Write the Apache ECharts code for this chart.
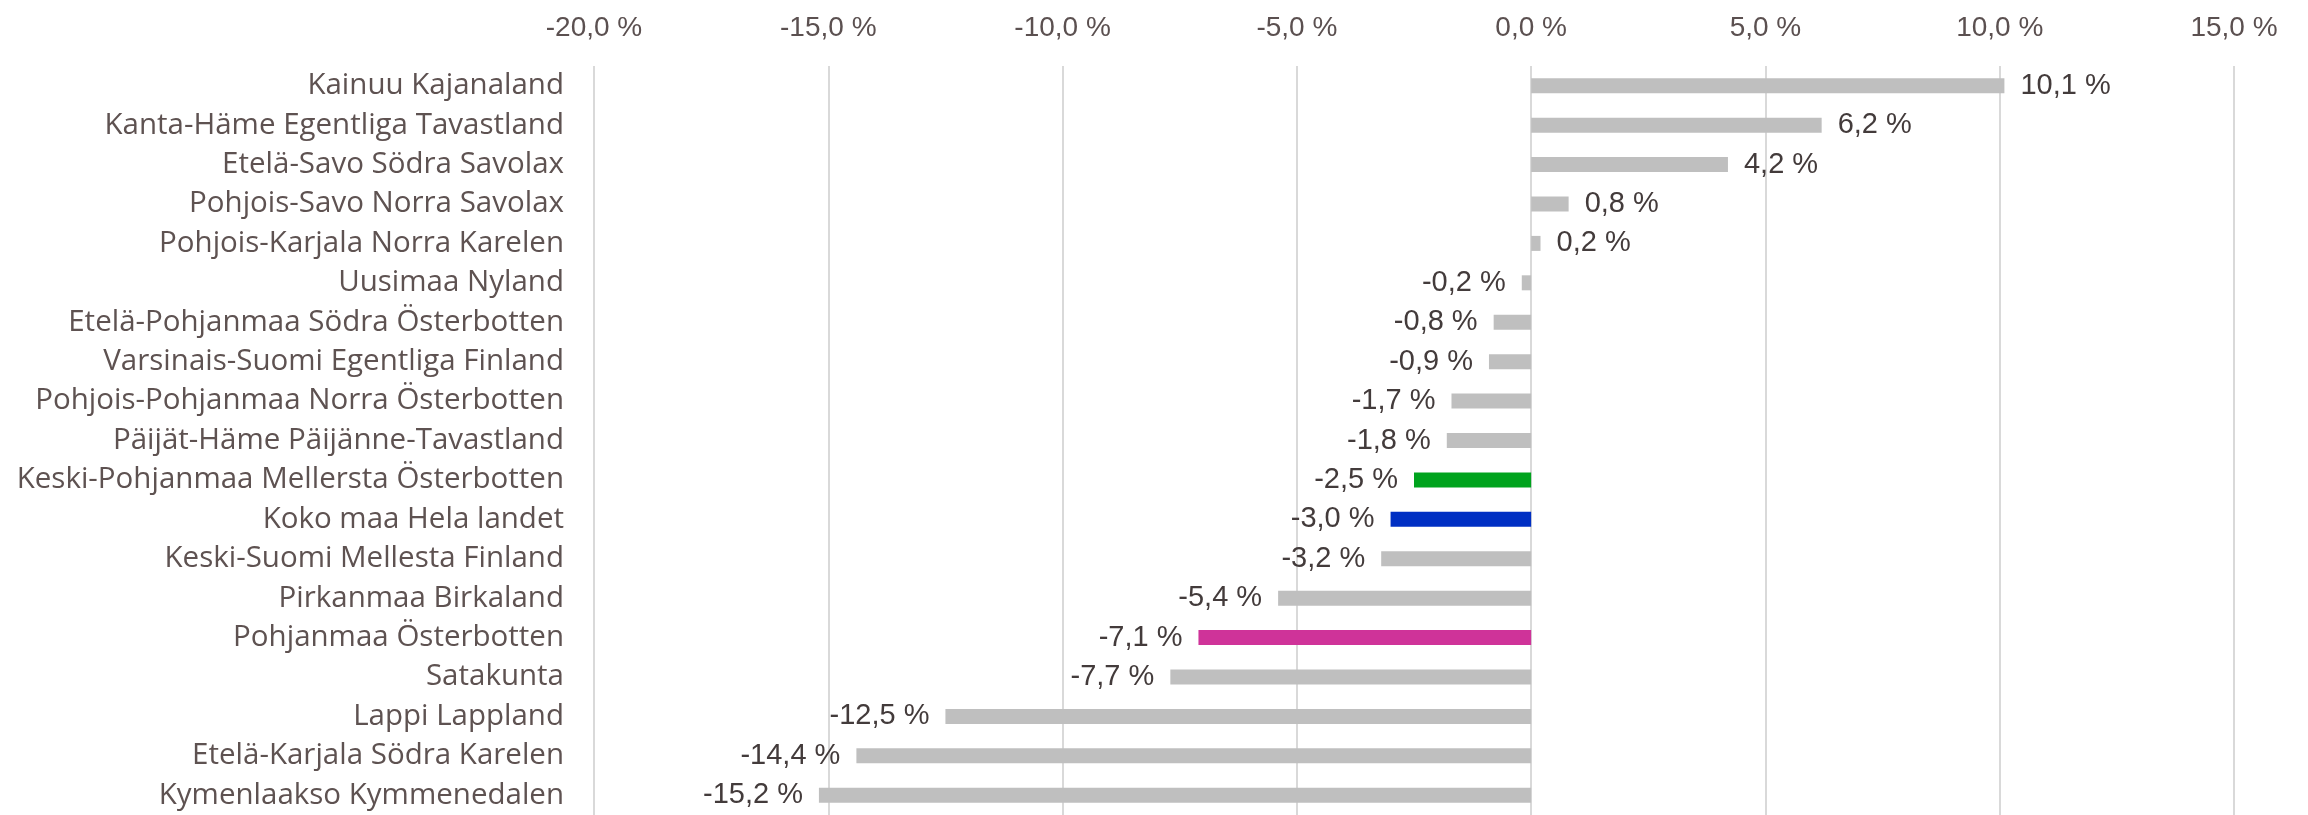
<!DOCTYPE html>
<html>
<head>
<meta charset="utf-8">
<script src="https://cdn.jsdelivr.net/npm/echarts@6/dist/echarts.min.js"></script>
<style>
  html, body { margin: 0; padding: 0; background: #ffffff; }
  #chart { width: 2308px; height: 815px; }
</style>
</head>
<body>
<div id="chart"></div>
<script>
// alueet ylhäältä alas
var regions = [
  'Kainuu Kajanaland',
  'Kanta-Häme Egentliga Tavastland',
  'Etelä-Savo Södra Savolax',
  'Pohjois-Savo Norra Savolax',
  'Pohjois-Karjala Norra Karelen',
  'Uusimaa Nyland',
  'Etelä-Pohjanmaa Södra Österbotten',
  'Varsinais-Suomi Egentliga Finland',
  'Pohjois-Pohjanmaa Norra Österbotten',
  'Päijät-Häme Päijänne-Tavastland',
  'Keski-Pohjanmaa Mellersta Österbotten',
  'Koko maa Hela landet',
  'Keski-Suomi Mellesta Finland',
  'Pirkanmaa Birkaland',
  'Pohjanmaa Österbotten',
  'Satakunta',
  'Lappi Lappland',
  'Etelä-Karjala Södra Karelen',
  'Kymenlaakso Kymmenedalen'
]
var change = [10.1, 6.2, 4.2, 0.8, 0.2, -0.2, -0.8, -0.9, -1.7, -1.8, -2.5, -3.0, -3.2, -5.4, -7.1, -7.7, -12.5, -14.4, -15.2]
var axisTicks = [-20, -15, -10, -5, 0, 5, 10, 15]

// korostetut palkit
var highlight = {
  'Keski-Pohjanmaa Mellersta Österbotten': '#00a31e',
  'Koko maa Hela landet': '#002fc3',
  'Pohjanmaa Österbotten': '#cf3399'
}

function pct(v) {
  return v.toFixed(1).replace('.', ',') + ' %'
}

var chart = echarts.init(document.getElementById('chart'))

var barData = change.map(function (v, i) {
  return {
    value: v,
    itemStyle: { color: highlight[regions[i]] || '#bfbfbf' },
    label: { position: v >= 0 ? 'right' : 'left' }
  }
})

chart.setOption({
  animation: false,
  backgroundColor: '#ffffff',
  grid: {
    left: 594,
    top: 66,
    width: 1640,
    height: 753
  },
  xAxis: {
    type: 'value',
    position: 'top',
    min: axisTicks[0],
    max: axisTicks[axisTicks.length - 1],
    interval: 5,
    axisLine: { show: false },
    axisTick: { show: false },
    splitLine: { lineStyle: { color: '#d9d9d9', width: 2 } },
    axisLabel: {
      margin: 24,
      color: '#5b5050',
      fontFamily: 'Liberation Sans',
      fontSize: 28,
      formatter: function (v) { return pct(v) }
    }
  },
  yAxis: {
    type: 'category',
    inverse: true,
    data: regions,
    axisLine: { show: false },
    axisTick: { show: false },
    splitLine: { show: false },
    axisLabel: {
      margin: 30,
      color: '#5e5251',
      fontFamily: 'Open Sans',
      fontSize: 29.5
    }
  },
  series: [
    {
      type: 'bar',
      data: barData,
      barWidth: 15,
      label: {
        show: true,
        distance: 16,
        color: '#433b3b',
        fontFamily: 'Liberation Sans',
        fontSize: 29,
        formatter: function (p) { return pct(p.value) }
      }
    }
  ]
})
</script>
</body>
</html>
